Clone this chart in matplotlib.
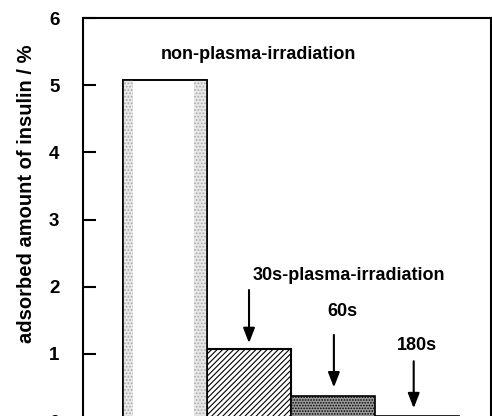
import matplotlib
matplotlib.use("Agg")
import matplotlib.pyplot as plt

# data
conditions = ['non-plasma', '30s', '60s', '180s']
adsorbed = [5.07, 1.07, 0.37, 0.08]
yticks = [0, 1, 2, 3, 4, 5, 6]

plt.rcParams['font.family'] = ['Liberation Sans', 'DejaVu Sans']
plt.rcParams['font.weight'] = 'bold'
plt.rcParams['hatch.linewidth'] = 0.8

fig = plt.figure(figsize=(4.92, 4.16), dpi=100)
ax = fig.add_axes([83/492, -5/416, 408/492, 403/416])

x = list(range(len(conditions)))

# bar 1: white with stippled edges
ax.bar(x[0], adsorbed[0], width=1.0, color='white', edgecolor='black', lw=1.2, zorder=2)
ax.bar(x[0] - 0.5 + 0.06, adsorbed[0], width=0.12, color='#e8e8e8', edgecolor='#a8a8a8',
       lw=0, hatch='.....', zorder=2.1)
ax.bar(x[0] + 0.5 - 0.08, adsorbed[0], width=0.16, color='#e8e8e8', edgecolor='#a8a8a8',
       lw=0, hatch='.....', zorder=2.1)
ax.bar(x[0], adsorbed[0], width=1.0, color='none', edgecolor='black', lw=1.2, zorder=2.2)

# bar 2: diagonal hatch
ax.bar(x[1], adsorbed[1], width=1.0, color='white', edgecolor='black', lw=1.5,
       hatch='//////', zorder=2)
# bar 3: dark stipple
ax.bar(x[2], adsorbed[2], width=1.0, color='#9c9c9c', edgecolor='black', lw=1.2,
       hatch='......', zorder=2)
# bar 4: almost zero
ax.bar(x[3], adsorbed[3], width=1.0, color='#bdbdbd', edgecolor='black', lw=1.2, zorder=2)

ax.set_xlim(-0.976, 3.88)
ax.set_ylim(0, 6)
ax.set_yticks(yticks)
ax.set_xticks([])
ax.tick_params(axis='y', direction='in', length=9, width=1.5, pad=17, labelsize=13.5)
for s in ax.spines.values():
    s.set_linewidth(1.5)
ax.set_ylabel('adsorbed amount of insulin / %', fontsize=14.5, fontweight='bold')
ax.yaxis.set_label_coords(-0.115, 0.563)

ax.text(1.107, 5.45, 'non-plasma-irradiation', ha='center', va='center', fontsize=13, fontweight='bold')

arrow = dict(arrowstyle='-|>,head_length=0.9,head_width=0.35', color='black', lw=1.5,
             shrinkA=0, shrinkB=0)
ax.text(2.19, 2.16, '30s-plasma-irradiation', ha='center', va='center', fontsize=13, fontweight='bold')
ax.annotate('', xy=(1.0, 1.16), xytext=(1.0, 1.95), arrowprops=arrow)
ax.text(2.107, 1.63, '60s', ha='center', va='center', fontsize=13, fontweight='bold')
ax.annotate('', xy=(2.01, 0.5), xytext=(2.01, 1.28), arrowprops=arrow)
ax.text(3.0, 1.12, '180s', ha='center', va='center', fontsize=13, fontweight='bold')
ax.annotate('', xy=(2.96, 0.19), xytext=(2.96, 0.89), arrowprops=arrow)

fig.savefig('out.png', dpi=100)
